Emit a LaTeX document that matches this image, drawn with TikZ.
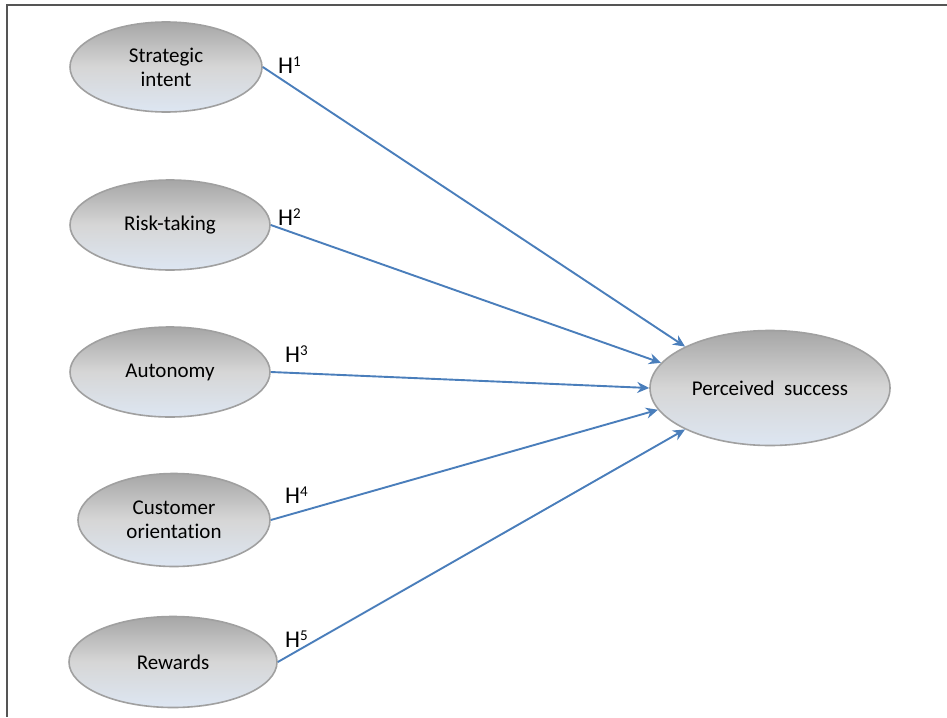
\documentclass[tikz,border=0pt]{standalone}
\usepackage{fontspec}
\setmainfont{Carlito}[Ligatures={NoCommon,NoRare}]
\usetikzlibrary{arrows.meta,shapes.geometric}
\definecolor{rimgray}{HTML}{A0A0A0}
\definecolor{topgray}{HTML}{A6A6A6}
\definecolor{midgray}{HTML}{D6D6D6}
\definecolor{botblue}{HTML}{DDE6F2}
\definecolor{arrowblue}{HTML}{4A7EBB}
\definecolor{framegray}{HTML}{555555}
\tikzset{
  construct/.style={ellipse, draw=rimgray, line width=1.6pt,
    top color=topgray, bottom color=botblue, middle color=midgray,
    inner sep=0pt, align=center,
    font=\fontsize{21}{24}\selectfont},
  hyp/.style={font=\fontsize{24}{26}\selectfont, inner sep=0pt, anchor=south west},
  path/.style={draw=arrowblue, line width=1.9pt,
    -{Stealth[length=12pt,width=11pt,inset=4pt]}},
  framing/.style={draw=framegray, line width=1.6pt}
}
\newcommand{\hsup}[1]{H\raisebox{0.32em}{\fontsize{15}{15}\selectfont #1}}
\begin{document}
\begin{tikzpicture}[x=1pt,y=-1pt]
\useasboundingbox (0,0) rectangle (947,717);
\draw[framing] (947,5) -- (7,5) -- (7,717);

\node[construct, minimum width=192pt, minimum height=90pt] (si) at (166,67) {Strategic\\intent};
\node[construct, minimum width=200pt, minimum height=90pt] (rt) at (170,225) {Risk-taking};
\node[construct, minimum width=200pt, minimum height=90pt] (au) at (170,372) {Autonomy};
\node[construct, minimum width=192pt, minimum height=93pt] (co) at (174,520) {Customer\\orientat\kern0pt ion};
\node[construct, minimum width=208pt, minimum height=91pt] (rw) at (173,662) {Rewards};
\node[construct, minimum width=240pt, minimum height=115pt] (ps) at (770,388) {Perceived\ \ success};

\node[hyp] (h1) at (278,74) {\hsup{1}};
\node[hyp] (h2) at (278,226) {\hsup{2}};
\node[hyp] (h3) at (285,363) {\hsup{3}};
\node[hyp] (h4) at (285,504) {\hsup{4}};
\node[hyp] (h5) at (285,648) {\hsup{5}};

\draw[path] (si.east) -- (ps.154);
\draw[path] (rt.east) -- (ps.167);
\draw[path] (au.east) -- (ps.180);
\draw[path] (co.east) -- (ps.191);
\draw[path] (rw.east) -- (ps.206);
\end{tikzpicture}
\end{document}
